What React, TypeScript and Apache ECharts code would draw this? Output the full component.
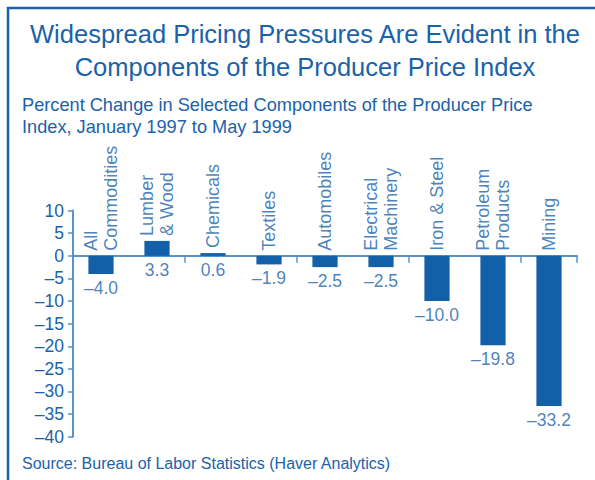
import React, { useEffect, useRef } from "react";
import * as echarts from "echarts";

const categories = [
  "All\nCommodities",
  "Lumber\n& Wood",
  "Chemicals",
  "Textiles",
  "Automobiles",
  "Electrical\nMachinery",
  "Iron & Steel",
  "Petroleum\nProducts",
  "Mining",
];
const values = [-4.0, 3.3, 0.6, -1.9, -2.5, -2.5, -10.0, -19.8, -33.2];
const yTicks = { min: -40, max: 10, interval: 5 };

const titleText = "Widespread Pricing Pressures Are Evident in the\nComponents of the Producer Price Index";
const subtitleText = "Percent Change in Selected Components of the Producer Price\nIndex, January 1997 to May 1999";
const sourceText = "Source: Bureau of Labor Statistics (Haver Analytics)";

const BLUE = "#1a62aa";
const BAR = "#1260a8";
const AXIS = "#5a92cc";
const FONT = "'Liberation Sans', Arial, sans-serif";

const dash = (s: string) => s.replace("-", "\u2013");

export default function App() {
  const ref = useRef<HTMLDivElement>(null);
  useEffect(() => {
    const chart = echarts.init(ref.current!, null, { renderer: "svg" });
    chart.setOption({
      animation: false,
      backgroundColor: "#ffffff",
      textStyle: { fontFamily: FONT },
      title: [
        {
          text: titleText,
          left: 300,
          textAlign: "center",
          top: 12,
          textStyle: { color: BLUE, fontSize: 25.5, fontWeight: "normal", lineHeight: 33, fontFamily: FONT },
        },
        {
          text: subtitleText,
          left: 17,
          top: 89,
          textStyle: { color: BLUE, fontSize: 18.2, fontWeight: "normal", lineHeight: 22, fontFamily: FONT },
        },
        {
          text: sourceText,
          left: 17,
          top: 450,
          textStyle: { color: BLUE, fontSize: 16, fontWeight: "normal", fontFamily: FONT },
        },
      ],
      graphic: [
        { type: "line", shape: { x1: 7, y1: 8, x2: 595, y2: 8 }, style: { stroke: BLUE, lineWidth: 2.5 } },
        { type: "line", shape: { x1: 8, y1: 7, x2: 8, y2: 480 }, style: { stroke: BLUE, lineWidth: 2.5 } },
      ],
      grid: { left: 73, right: 18, top: 210.6, bottom: 43.3, containLabel: false },
      xAxis: {
        type: "category",
        data: categories,
        axisLine: { onZero: true, lineStyle: { color: AXIS, width: 2 } },
        axisTick: { show: true, inside: false, length: 7, lineStyle: { color: AXIS, width: 1.5 } },
        axisLabel: { show: false },
      },
      yAxis: {
        type: "value",
        min: yTicks.min,
        max: yTicks.max,
        interval: yTicks.interval,
        splitLine: { show: false },
        axisLine: { show: true, lineStyle: { color: AXIS, width: 2 } },
        axisTick: { show: true, length: 5, lineStyle: { color: AXIS, width: 1.5 } },
        axisLabel: {
          color: BLUE,
          fontSize: 17.5,
          margin: 9,
          fontFamily: FONT,
          formatter: (v: number) => dash(String(v)),
        },
      },
      series: [
        {
          type: "bar",
          data: values,
          barWidth: "45%",
          itemStyle: { color: BAR },
        },
        {
          type: "scatter",
          data: values.map((v, i) => [i, Math.min(v, 0)]),
          symbolSize: 0,
          label: {
            show: true,
            position: "bottom",
            distance: 5,
            color: BLUE,
            fontSize: 17.5,
            fontFamily: FONT,
            formatter: (p: any) => dash(values[p.dataIndex].toFixed(1)),
          },
          silent: true,
          z: 5,
        },
        {
          type: "scatter",
          data: values.map((v, i) => [i, Math.max(v, 0)]),
          symbolSize: 0,
          label: {
            show: true,
            position: "top",
            distance: 5,
            rotate: 90,
            align: "left",
            verticalAlign: "middle",
            color: BLUE,
            fontSize: 18,
            lineHeight: 20,
            fontFamily: FONT,
            formatter: (p: any) => categories[p.dataIndex],
          },
          silent: true,
          z: 5,
        },
      ],
    });
    return () => chart.dispose();
  }, []);
  return (
    <div
      ref={ref}
      style={{ position: "fixed", left: 0, top: 0, width: 595, height: 480 }}
    />
  );
}
